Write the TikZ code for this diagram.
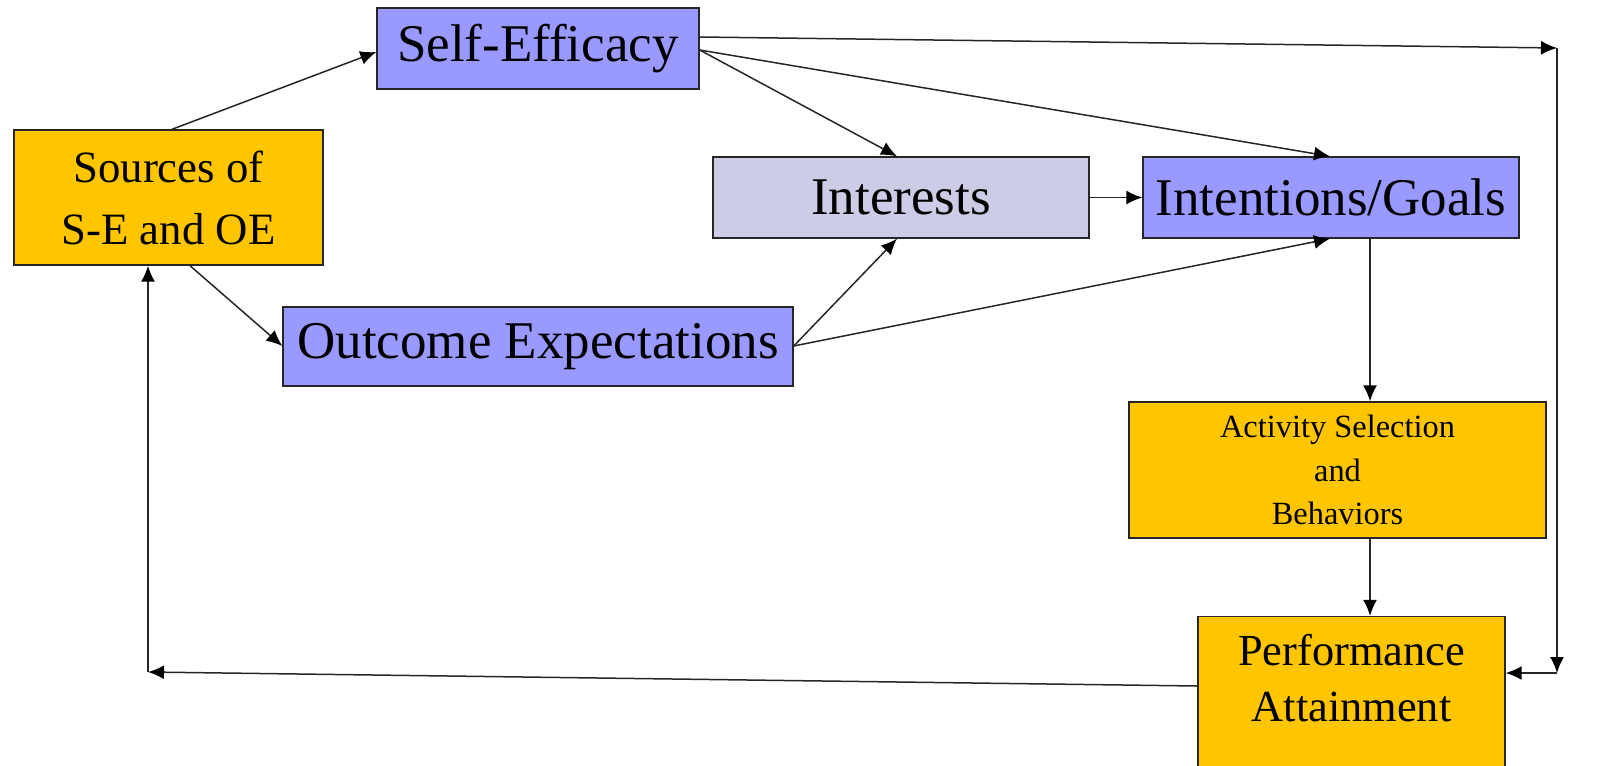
\documentclass[tikz,border=0pt]{standalone}
\usepackage{fontspec}
\setmainfont{Liberation Serif}
\usetikzlibrary{arrows.meta}
\definecolor{blueC}{RGB}{153,153,255}
\definecolor{lavC}{RGB}{204,204,230}
\definecolor{orC}{RGB}{255,198,0}
\tikzset{
  box/.style={draw=black!85, line width=0.7pt, inner sep=0pt, align=center},
  conn/.style={line width=0.75pt, draw=black!85, -{Latex[length=8pt,width=7pt,black]}},
}
\begin{document}
\begin{tikzpicture}[x=0.5pt,y=-0.5pt]
\useasboundingbox (0,0) rectangle (1615,765);
\begin{scope}
\clip (0,0) rectangle (1615,765);
\node[box, fill=blueC, minimum width=161pt, minimum height=40.5pt, font=\fontsize{26.5}{30}\selectfont] (se) at (538,48.5) {Self-Efficacy};
\node[box, fill=orC, minimum width=154.5pt, minimum height=67.5pt, font=\fontsize{22.4}{31}\selectfont] (src) at (168.5,197.5) {Sources of\\S-E and OE};
\node[box, fill=lavC, minimum width=188pt, minimum height=40.5pt, font=\fontsize{26.5}{30}\selectfont] (int) at (901,197.5) {Interests};
\node[box, fill=blueC, minimum width=188pt, minimum height=40.5pt, font=\fontsize{26.5}{30}\selectfont] (ig) at (1331,197.5) {Intentions/Goals};
\node[box, fill=blueC, minimum width=255pt, minimum height=39.5pt, font=\fontsize{26.5}{30}\selectfont] (oe) at (538,346.5) {Outcome Expectations};
\node[box, fill=orC, minimum width=208.5pt, minimum height=68pt, font=\fontsize{16.2}{21.75}\selectfont, yshift=-1pt] (act) at (1337.5,468) {Activity Selection\\and\\Behaviors};
\node[box, fill=orC, minimum width=153.5pt, minimum height=76.5pt, font=\fontsize{22.2}{28}\selectfont, text depth=15pt] (perf) at (1351.5,693) {Performance\\Attainment};
\end{scope}

\coordinate (c1) at (1557,48);
\coordinate (c2) at (1557,673);
\coordinate (c3) at (148,672);

\draw[conn] (src.north -| 172,0) -- (se.west |- 0,52);
\draw[conn] (src.south -| 190,0) -- (oe.west |- 0,346);
\draw[conn] (se.east |- 0,50) -- (int.north -| 897,0);
\draw[conn] (se.east |- 0,50) -- (ig.north -| 1330,0);
\draw[conn] (oe.east |- 0,346) -- (int.south -| 897,0);
\draw[conn] (oe.east |- 0,346) -- (ig.south -| 1330,0);
\draw[conn] (int.east) -- (ig.west);
\draw[conn] (ig.south -| 1370,0) -- (act.north -| 1370,0);
\draw[conn] (act.south -| 1370,0) -- (perf.north -| 1370,0);
\draw[conn] (se.east |- 0,37) -- (c1);
\draw[conn] (c1) -- (c2);
\draw[conn] (c2) -- (perf.east |- c2);
\draw[conn] (perf.west |- 0,686) -- (c3);
\draw[conn] (c3) -- (src.south -| c3);
\end{tikzpicture}
\end{document}
